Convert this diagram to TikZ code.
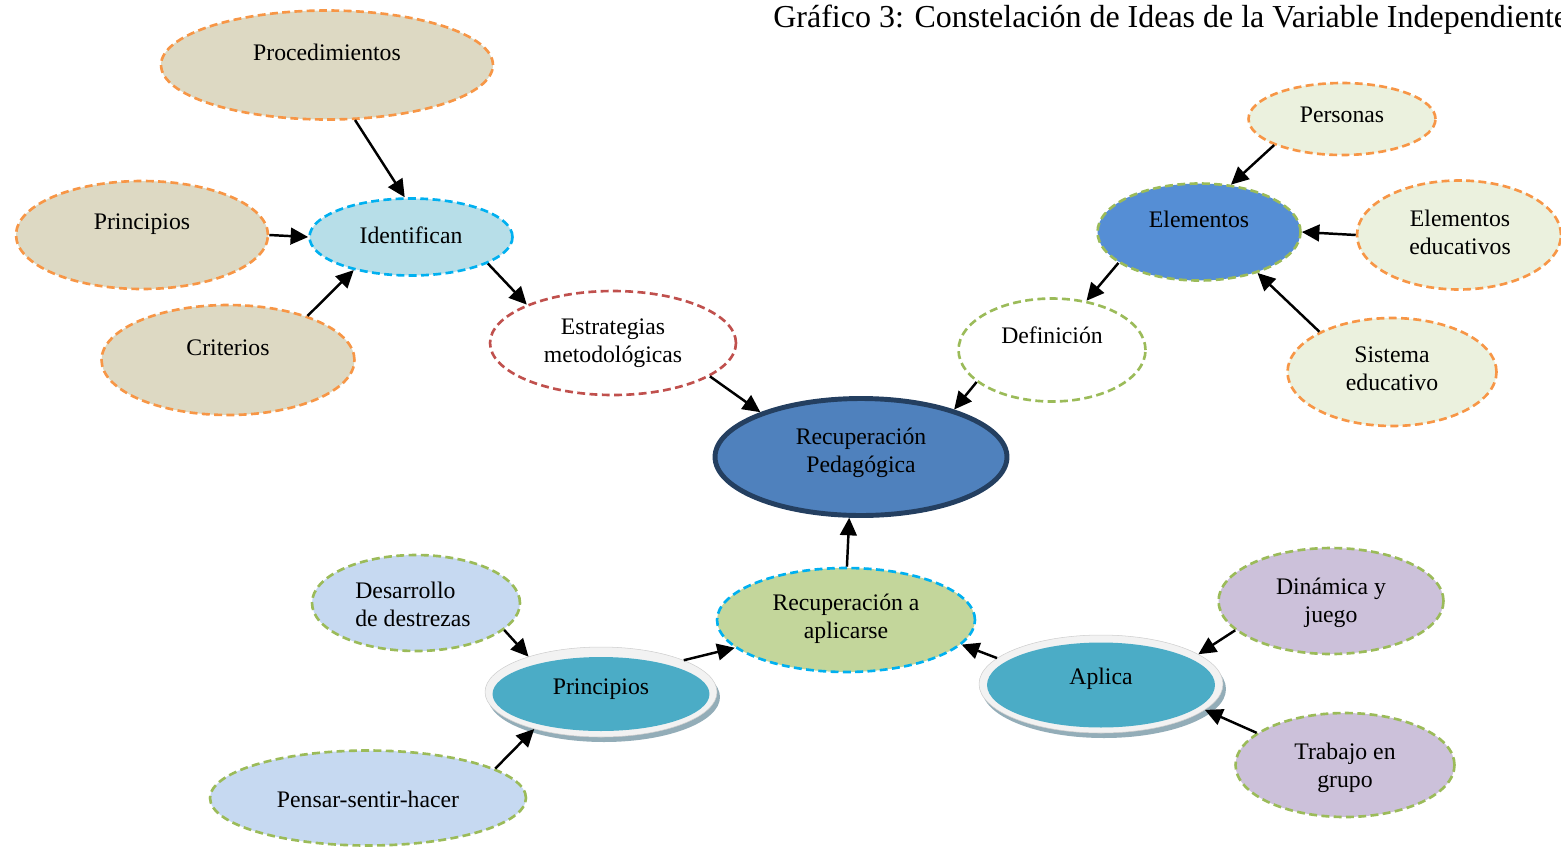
\documentclass[tikz,border=0pt]{standalone}
\usepackage{fontspec}
\setmainfont{Liberation Serif}
\usetikzlibrary{shapes.geometric,arrows.meta}
\begin{document}
\begin{tikzpicture}[x=0.02cm,y=-0.02cm,
  idea/.style={ellipse,line width=1.5pt,dash pattern=on 4.5pt off 2.5pt,inner sep=0pt},
  disc/.style={ellipse,inner sep=0pt},
  txt/.style={font=\fontsize{13.5}{16}\selectfont,align=center,inner sep=0pt},
  link/.style={line width=1.4pt,-{Triangle[length=10pt,width=9.5pt]}}]
\definecolor{tan}{HTML}{DDD9C3}
\definecolor{orng}{HTML}{F79646}
\definecolor{skyfill}{HTML}{B7DEE8}
\definecolor{skyline}{HTML}{00B0F0}
\definecolor{redline}{HTML}{C0504D}
\definecolor{grnline}{HTML}{9BBB59}
\definecolor{central}{HTML}{4F81BD}
\definecolor{navy}{HTML}{243F60}
\definecolor{elemblue}{HTML}{558ED5}
\definecolor{palegrn}{HTML}{EBF1DE}
\definecolor{olive}{HTML}{C3D69B}
\definecolor{paleblue}{HTML}{C6D9F1}
\definecolor{teal}{HTML}{4BACC6}
\definecolor{rim}{HTML}{F2F2F2}
\definecolor{shade}{HTML}{93ADB8}
\definecolor{lilac}{HTML}{CCC1DA}
\useasboundingbox (0,0) rectangle (1561,849);

\node[anchor=base west,inner sep=0pt,font=\fontsize{18.2}{21}\selectfont] (title) at (773,27)
  {Gráfico 3: Constelación de Ideas de la Variable Independiente};

% left group
\node[idea,draw=orng,fill=tan,minimum width=6.64cm,minimum height=2.18cm] (proc) at (327,65) {};
\node[txt] (procT) at (327,52) {Procedimientos};
\node[idea,draw=orng,fill=tan,minimum width=5.04cm,minimum height=2.16cm] (princ) at (142,235) {};
\node[txt] (princT) at (142,224) {Principios};
\node[idea,draw=orng,fill=tan,minimum width=5.06cm,minimum height=2.2cm] (crit) at (228,360) {};
\node[txt] (critT) at (228,348) {Criterios};
\node[idea,draw=skyline,fill=skyfill,minimum width=4.06cm,minimum height=1.54cm] (ident) at (411,237) {};
\node[txt] (identT) at (411,235) {Identifican};
\node[idea,draw=redline,fill=white,minimum width=4.92cm,minimum height=2.08cm] (estr) at (613,343) {};
\node[txt] (estrT) at (613,343) {Estrategias\\metodológicas};

% centre
\node[disc,draw=navy,fill=central,line width=2.8pt,minimum width=5.84cm,minimum height=2.34cm] (recup) at (861,457) {};
\node[txt] (recupT) at (861,453) {Recuperación\\Pedagógica};

% right group
\node[idea,draw=grnline,fill=white,minimum width=3.74cm,minimum height=2.06cm] (defin) at (1052,350) {};
\node[txt] (definT) at (1052,335) {Definición};
\node[idea,draw=grnline,fill=elemblue,minimum width=4.06cm,minimum height=1.94cm] (elem) at (1199,232) {};
\node[txt] (elemT) at (1199,219) {Elementos};
\node[idea,draw=orng,fill=palegrn,minimum width=3.74cm,minimum height=1.44cm] (pers) at (1342,119) {};
\node[txt] (persT) at (1342,115) {Personas};
\node[idea,draw=orng,fill=palegrn,minimum width=4.08cm,minimum height=2.18cm] (eledu) at (1459,235) {};
\node[txt] (eleduT) at (1460,232) {Elementos\\educativos};
\node[idea,draw=orng,fill=palegrn,minimum width=4.18cm,minimum height=2.16cm] (sist) at (1392,372) {};
\node[txt] (sistT) at (1392,369) {Sistema\\educativo};

% bottom group
\node[idea,draw=skyline,fill=olive,minimum width=5.16cm,minimum height=2.08cm] (recap) at (846,620) {};
\node[txt] (recapT) at (846,619) {Recuperación a\\aplicarse};
\node[idea,draw=grnline,fill=paleblue,minimum width=4.16cm,minimum height=1.92cm] (desar) at (416,603) {};
\node[txt,align=left,anchor=west] (desarT) at (355,604) {Desarrollo\\de destrezas};
\node[idea,draw=grnline,fill=paleblue,minimum width=6.32cm,minimum height=1.9cm] (pens) at (368,798) {};
\node[txt] (pensT) at (368,799) {Pensar-sentir-hacer};

\node[disc,fill=shade,minimum width=4.64cm,minimum height=1.8cm] (princS) at (604,697) {};
\node[disc,fill=rim,draw=rim!85!black,line width=0.3pt,minimum width=4.64cm,minimum height=1.8cm] (princB) at (601,692) {};
\node[disc,fill=teal,minimum width=4.34cm,minimum height=1.48cm] (princI) at (601,694) {};
\node[txt] (princBT) at (601,689) {Principios};

\node[disc,fill=shade,minimum width=4.88cm,minimum height=1.96cm] (aplicaS) at (1104,689) {};
\node[disc,fill=rim,draw=rim!85!black,line width=0.3pt,minimum width=4.88cm,minimum height=1.96cm] (aplica) at (1101,684) {};
\node[disc,fill=teal,minimum width=4.56cm,minimum height=1.7cm] (aplicaI) at (1101,685) {};
\node[txt] (aplicaT) at (1101,679) {Aplica};

\node[idea,draw=grnline,fill=lilac,minimum width=4.5cm,minimum height=2.12cm] (din) at (1331,601) {};
\node[txt] (dinT) at (1331,603) {Dinámica y\\juego};
\node[idea,draw=grnline,fill=lilac,minimum width=4.38cm,minimum height=2.08cm] (trab) at (1345,765) {};
\node[txt] (trabT) at (1345,768) {Trabajo en\\grupo};

% connectors
\draw[link] (proc.297) -- (ident.99);
\draw[link] (princ.0) -- (ident.180);
\draw[link] (crit.29) -- (ident.210);
\draw[link] (ident.-19) -- (estr.156);
\draw[link] (estr.-19) -- (recup.156);
\draw[link] (defin.203) -- (recup.27);
\draw[link] (elem.201) -- (defin.55);
\draw[link] (pers.201) -- (elem.56);
\draw[link] (eledu.180) -- (elem.0);
\draw[link] (sist.151) -- (elem.-35);
\draw[link] (recap.89) -- (recup.259);
\draw[link] (desar.-17) -- (princB.154);
\draw[link] (pens.13) -- (princB.209);
\draw[link] (princB.21) -- (recap.194);
\draw[link] (aplica.166) -- (recap.-12);
\draw[link] (din.197) -- (aplica.17);
\draw[link] (trab.160) -- (aplica.-14);
\end{tikzpicture}
\end{document}
